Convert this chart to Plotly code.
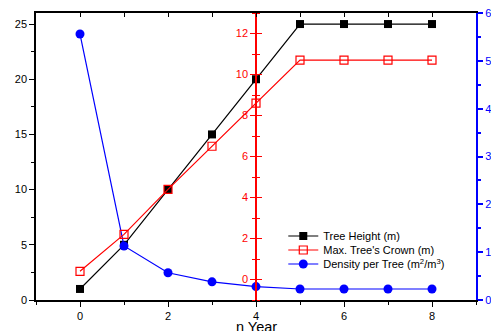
import plotly.graph_objects as go

years = [0, 1, 2, 3, 4, 5, 6, 7, 8]
tree_height = [1, 5, 10, 15, 20, 25, 25, 25, 25]
crown = [0.4, 2.2, 4.4, 6.5, 8.6, 10.7, 10.7, 10.7, 10.7]
density = [5.56, 1.13, 0.57, 0.38, 0.28, 0.23, 0.23, 0.23, 0.23]

FONT = "Arial, Liberation Sans, sans-serif"

fig = go.Figure()
fig.add_trace(go.Scatter(x=years, y=tree_height, name="Tree Height (m)", mode="lines+markers",
                         line=dict(color="black", width=1.2),
                         marker=dict(symbol="square", size=8, color="black"), yaxis="y",
                         legend="legend"))
fig.add_trace(go.Scatter(x=years, y=crown, name="Max. Tree's Crown (m)", mode="lines+markers",
                         line=dict(color="red", width=1.2),
                         marker=dict(symbol="square-open", size=8, color="red", line=dict(width=1.2)),
                         yaxis="y3", legend="legend2"))
fig.add_trace(go.Scatter(x=years, y=density, name="Density per Tree (m<sup>2</sup>/m<sup>3</sup>)",
                         mode="lines+markers", line=dict(color="blue", width=1.2),
                         marker=dict(symbol="circle", size=9, color="blue"), yaxis="y2",
                         legend="legend3"))

leg_common = dict(xanchor="left", yanchor="middle", bgcolor="rgba(0,0,0,0)",
                  font=dict(size=11), borderwidth=0)
lx = 0.562

fig.update_layout(
    width=491, height=331,
    margin=dict(l=36, r=15, t=13, b=31),
    paper_bgcolor="white", plot_bgcolor="white",
    font=dict(family=FONT, size=11, color="black"),
    showlegend=True,
    legend=dict(x=lx, y=(300 - 236) / 287, **leg_common),
    legend2=dict(x=lx, y=(300 - 250) / 287, **leg_common),
    legend3=dict(x=lx, y=(300 - 264) / 287, **leg_common),
    annotations=[dict(text="n Year", xref="paper", yref="paper", x=0.5, y=-0.06,
                      xanchor="center", yanchor="top", showarrow=False,
                      font=dict(size=14.5, color="black"))],
    xaxis=dict(range=[-1, 9], tickvals=[0, 2, 4, 6, 8], ticks="outside", ticklen=5, tickwidth=1,
               tickcolor="black", showline=True, linecolor="black", linewidth=1.5,
               minor=dict(dtick=1, tick0=-1, ticks="outside", ticklen=3, tickcolor="black"),
               showgrid=False, zeroline=False, automargin=False,
               tickfont=dict(size=11)),
    xaxis2=dict(range=[-1, 9], overlaying="x", side="top", anchor="y", dtick=1, ticks="inside",
                ticklen=4, tickcolor="black", showline=True, linecolor="black", linewidth=1.5,
                showticklabels=False, showgrid=False, zeroline=False, automargin=False),
    yaxis=dict(range=[0, 26], dtick=5, ticks="outside", ticklen=5, tickcolor="black",
               showline=True, linecolor="black", linewidth=1.5,
               minor=dict(dtick=2.5, ticks="outside", ticklen=3, tickcolor="black"),
               showgrid=False, zeroline=False, tickfont=dict(size=11), automargin=False),
    yaxis2=dict(range=[0, 6], dtick=1, overlaying="y", side="right", anchor="x",
                ticks="outside", ticklen=5, tickcolor="blue", tickwidth=1.5,
                showline=True, linecolor="blue", linewidth=2,
                minor=dict(dtick=0.5, ticks="outside", ticklen=3, tickcolor="blue"),
                showgrid=False, zeroline=False, tickfont=dict(size=11, color="blue"),
                automargin=False),
    yaxis3=dict(range=[-1, 13], tickvals=[0, 2, 4, 6, 8, 10, 12], overlaying="y", side="left",
                anchor="free", position=0.5,
                ticks="outside", ticklen=5, tickcolor="red", tickwidth=1.2,
                showline=True, linecolor="red", linewidth=1.5,
                minor=dict(dtick=1, tick0=-1, ticks="outside", ticklen=3, tickcolor="red"),
                showgrid=False, zeroline=False, tickfont=dict(size=11, color="red"),
                automargin=False),
    yaxis4=dict(range=[-1, 13], tickvals=[0, 2, 4, 6, 8, 10, 12], overlaying="y", side="right",
                anchor="free", position=0.5,
                ticks="outside", ticklen=5, tickcolor="red", tickwidth=1.2,
                showline=False, showticklabels=False,
                minor=dict(dtick=1, tick0=-1, ticks="outside", ticklen=3, tickcolor="red"),
                showgrid=False, zeroline=False, automargin=False),
)
# invisible helper trace to activate the top x-axis and the right-hand red tick set
fig.add_trace(go.Scatter(x=[None], y=[None], xaxis="x2", yaxis="y4", showlegend=False, hoverinfo="skip"))

fig.write_html("out.html", config={"displayModeBar": False},
               post_script="document.body.style.margin='0';document.body.style.padding='0';")
